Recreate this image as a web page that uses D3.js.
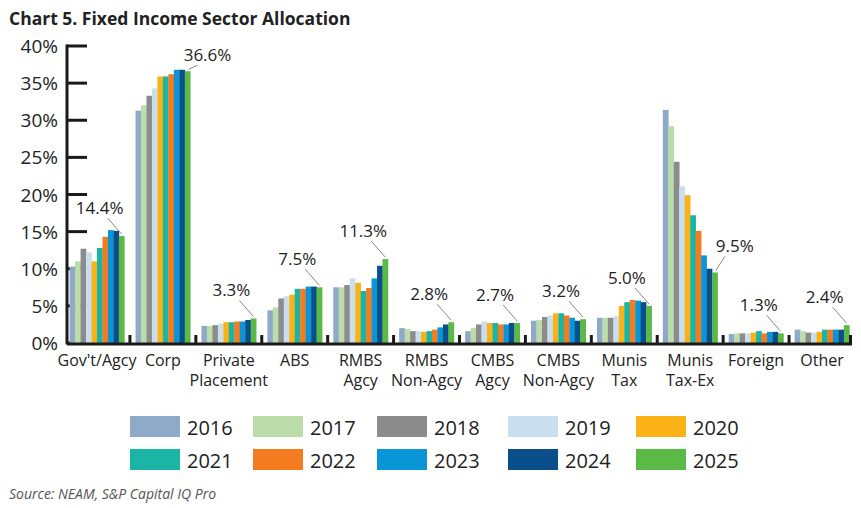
<!DOCTYPE html><html><head><meta charset="utf-8"><script src="https://cdn.jsdelivr.net/npm/d3@7"></script>
<style>body{margin:0;background:#fff}text{font-family:"Open Sans",sans-serif}</style></head><body><svg id="c" width="861" height="508"></svg>
<script>
const categories=[["Gov't/Agcy"],["Corp"],["Private","Placement"],["ABS"],["RMBS","Agcy"],["RMBS","Non-Agcy"],["CMBS","Agcy"],["CMBS","Non-Agcy"],["Munis","Tax"],["Munis","Tax-Ex"],["Foreign"],["Other"]];
const years=["2016","2017","2018","2019","2020","2021","2022","2023","2024","2025"];
const colors=["#8fa9c9","#bcdcaa","#8c8c8c","#c9dff0","#fbb217","#1ab5a5","#f47b20","#0a96d6","#0b4f8a","#5bb946"];
const values=[
[10.3,11.0,12.7,12.2,11.0,12.8,14.3,15.2,15.1,14.4],
[31.3,32.0,33.3,34.3,35.9,35.9,36.2,36.8,36.8,36.6],
[2.3,2.3,2.4,2.6,2.8,2.8,2.9,2.9,3.1,3.3],
[4.4,4.8,6.0,6.3,6.5,7.3,7.3,7.6,7.6,7.5],
[7.5,7.5,7.8,8.7,8.1,7.0,7.4,8.7,10.4,11.3],
[2.0,1.9,1.6,1.6,1.5,1.6,1.8,2.1,2.5,2.8],
[1.6,2.0,2.5,2.9,2.7,2.7,2.5,2.5,2.7,2.7],
[3.0,3.1,3.5,3.7,4.0,4.0,3.7,3.4,3.0,3.2],
[3.4,3.4,3.4,3.6,5.0,5.5,5.8,5.7,5.5,5.0],
[31.4,29.2,24.4,21.1,19.9,17.2,15.1,11.8,10.0,9.5],
[1.2,1.3,1.3,1.3,1.4,1.6,1.3,1.5,1.5,1.3],
[1.8,1.6,1.4,1.4,1.5,1.8,1.8,1.8,1.8,2.4]];
const labels=["14.4%","36.6%","3.3%","7.5%","11.3%","2.8%","2.7%","3.2%","5.0%","9.5%","1.3%","2.4%"];
const yTicks=[0,5,10,15,20,25,30,35,40];

const svg=d3.select("#c");
const L=67,R=852,T=46,B=343;
const x=d3.scaleBand().domain(d3.range(12)).range([L,R]).paddingInner(0.17).paddingOuter(0.04);
const xs=d3.scaleBand().domain(d3.range(10)).range([0,x.bandwidth()]);
const y=d3.scaleLinear().domain([0,40]).range([B,T]);
svg.append("text").attr("x",9).attr("y",25).attr("font-size",17.5).attr("font-weight",700).attr("fill","#222").text("Chart 5. Fixed Income Sector Allocation");
yTicks.forEach(t=>{
 svg.append("text").attr("x",58).attr("y",y(t)+7).attr("text-anchor","end").attr("font-size",19).attr("fill","#222").text(t+"%");
 svg.append("line").attr("x1",L).attr("x2",L+20).attr("y1",y(t)).attr("y2",y(t)).attr("stroke","#1a1a1a").attr("stroke-width",3);
});
svg.append("line").attr("x1",L).attr("x2",L).attr("y1",T-1.5).attr("y2",B+1.5).attr("stroke","#1a1a1a").attr("stroke-width",3);
values.forEach((vals,i)=>{
 const g=svg.append("g").attr("transform",`translate(${x(i)},0)`);
 g.selectAll("rect").data(vals).join("rect").attr("x",(d,j)=>xs(j)).attr("width",xs.bandwidth()+0.3).attr("y",d=>y(d)).attr("height",d=>B-y(d)).attr("fill",(d,j)=>colors[j]);
 const bx=x(i)+xs(9)+xs.bandwidth()/2, by=y(vals[9]);
 const right=(i===1||i===9);
 const tx=right?bx+20:bx-22, ty=right?by-(i===1?10:20):by-22;
 svg.append("text").attr("x",tx).attr("y",ty).attr("text-anchor","middle").attr("font-size",17).attr("fill","#222").text(labels[i]);
 if(right) svg.append("line").attr("x1",tx-10).attr("y1",ty+4).attr("x2",bx+1).attr("y2",by-2).attr("stroke","#888").attr("stroke-width",1);
 else svg.append("line").attr("x1",tx+8).attr("y1",ty+4).attr("x2",bx).attr("y2",by-2).attr("stroke","#888").attr("stroke-width",1);
 categories[i].forEach((s,k)=>svg.append("text").attr("x",x(i)+x.bandwidth()/2).attr("y",366+k*20).attr("text-anchor","middle").attr("font-size",16).attr("fill","#222").text(s));
 if(i<11){const sx=x(i)+x.bandwidth()+x.step()*0.085;svg.append("line").attr("x1",sx).attr("x2",sx).attr("y1",B-8).attr("y2",B).attr("stroke","#1a1a1a").attr("stroke-width",3);}
});
svg.append("line").attr("x1",L).attr("x2",R).attr("y1",B+1).attr("y2",B+1).attr("stroke","#1a1a1a").attr("stroke-width",3);
svg.append("line").attr("x1",R-1.5).attr("x2",R-1.5).attr("y1",B-8).attr("y2",B).attr("stroke","#1a1a1a").attr("stroke-width",3);
const lx=[130,253,377,508,636];
years.forEach((yr,j)=>{
 const cx=lx[j%5], cy=j<5?416:449;
 svg.append("rect").attr("x",cx).attr("y",cy).attr("width",50).attr("height",21).attr("fill",colors[j]);
 svg.append("text").attr("x",cx+57).attr("y",cy+19).attr("font-size",20).attr("fill","#222").text(yr);
});
svg.append("text").attr("x",9).attr("y",499).attr("font-size",14).attr("font-style","italic").attr("fill","#555").text("Source: NEAM, S&P Capital IQ Pro");
</script></body></html>
